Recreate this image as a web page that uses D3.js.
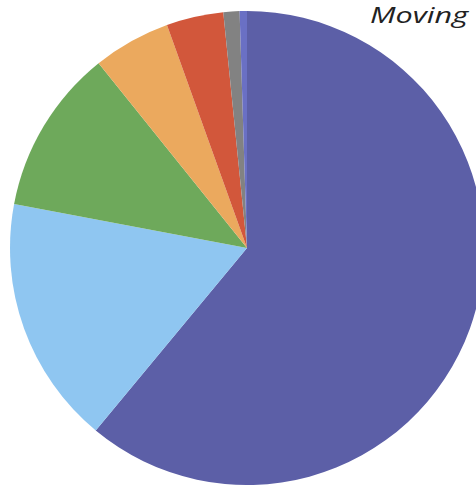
<!DOCTYPE html>
<html><head><meta charset="utf-8">
<script src="https://cdn.jsdelivr.net/npm/d3@7"></script>
<style>html,body{margin:0;padding:0;background:#fff;overflow:hidden}</style>
</head><body>
<svg id="chart" width="476" height="485"></svg>
<script>
const categories = ["A","B","C","D","E","F","G"];
const values = [61.2, 17.0, 11.3, 5.3, 3.9, 1.1, 0.5];
const colors = ["#5c5fa7","#8fc6f1","#6ea95b","#eba95e","#d2573b","#828282","#6a70c4"];
const titleText = "Moving";

const svg = d3.select("#chart");
const cx = 247, cy = 248, r = 237;
const pie = d3.pie().sort(null).value(d => d.v);
const arc = d3.arc().innerRadius(0).outerRadius(r);
const data = categories.map((c,i)=>({c, v: values[i], col: colors[i]}));
const g = svg.append("g").attr("transform", `translate(${cx},${cy})`);
g.selectAll("path").data(pie(data)).join("path")
  .attr("d", arc).attr("fill", d => d.data.col);

svg.append("text").attr("x", 370).attr("y", 23)
  .attr("font-family", "Open Sans, sans-serif").attr("font-style","italic")
  .attr("font-size", 21).attr("fill", "#222")
  .attr("textLength", 98).attr("lengthAdjust","spacingAndGlyphs")
  .text(titleText);
</script>
</body></html>
